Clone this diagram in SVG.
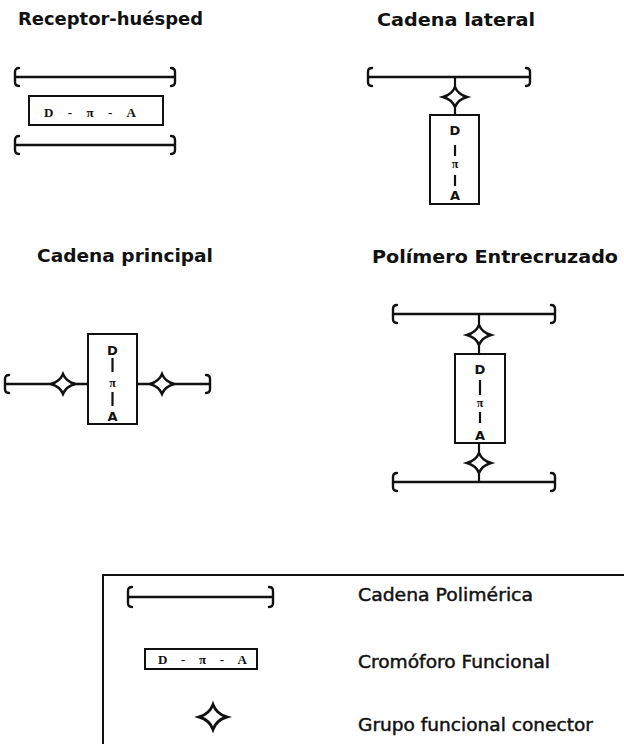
<svg xmlns="http://www.w3.org/2000/svg" width="624" height="744" viewBox="0 0 624 744">
<style>
.title{font-family:"DejaVu Sans","Liberation Sans",sans-serif;font-weight:bold;font-size:17px;fill:#111}
.lab{font-family:"DejaVu Sans","Liberation Sans",sans-serif;font-size:17px;fill:#111;stroke:#111;stroke-width:0.45}
.chain{fill:none;stroke:#111;stroke-width:2.4;stroke-linecap:round}
.box{fill:#fff;stroke:#111;stroke-width:2}
.bond{stroke:#111;stroke-width:2.2}
.stem{stroke:#111;stroke-width:2.2}
.hx{font-family:"Liberation Serif","DejaVu Serif",serif;font-weight:bold;font-size:13px;fill:#111}
.vx{font-family:"DejaVu Sans","Liberation Sans",sans-serif;font-weight:bold;font-size:13px;fill:#111;text-anchor:middle}
.pi{font-family:"Liberation Serif","DejaVu Serif",serif;font-weight:bold;font-size:12px;fill:#111;text-anchor:middle}
.frame{fill:none;stroke:#111;stroke-width:2}
</style>
<defs>
<path id="star" d="M-12,0 Q-3,-2.5 0,-10 Q3,-2.5 12,0 Q3,2.5 0,10 Q-3,2.5 -12,0Z" fill="#fff" stroke="#111" stroke-width="2.4" stroke-linejoin="miter"/>
</defs>
<rect width="624" height="744" fill="#fff"/>

<g id="receptor-huesped">
<text class="title" x="18" y="25" textLength="185" lengthAdjust="spacingAndGlyphs">Receptor-huésped</text>
<path class="chain" d="M19,68 Q15,68 15,72 V82 Q15,86 19,86 M15,77 H175 M171,68 Q175,68 175,72 V82 Q175,86 171,86"/>
<rect class="box" x="29" y="96" width="134" height="29"/>
<text class="hx" x="44" y="117" textLength="92" lengthAdjust="spacing">D - π - A</text>
<path class="chain" d="M19,136 Q15,136 15,140 V150 Q15,154 19,154 M15,145 H175 M171,136 Q175,136 175,140 V150 Q175,154 171,154"/>
</g>

<g id="cadena-lateral">
<text class="title" x="377" y="26" textLength="158" lengthAdjust="spacingAndGlyphs">Cadena lateral</text>
<path class="chain" d="M372,68 Q368,68 368,72 V82 Q368,86 372,86 M368,77 H530 M526,68 Q530,68 530,72 V82 Q530,86 526,86"/>
<rect class="box" x="430" y="115" width="49" height="89"/>
<text class="vx" x="455" y="135">D</text>
<line class="bond" x1="455" y1="145" x2="455" y2="156"/>
<text class="pi" x="455" y="168">π</text>
<line class="bond" x1="455" y1="175" x2="455" y2="186"/>
<text class="vx" x="455" y="200">A</text>
</g>

<g id="cadena-principal">
<text class="title" x="37" y="262" textLength="176" lengthAdjust="spacingAndGlyphs">Cadena principal</text>
<path class="chain" d="M9,375 Q5,375 5,379 V389 Q5,393 9,393 M5,384 H88 M137,384 H210 M206,375 Q210,375 210,379 V389 Q210,393 206,393"/>
<rect class="box" x="88" y="334" width="49" height="90"/>
<text class="vx" x="112.5" y="355">D</text>
<line class="bond" x1="112.5" y1="358" x2="112.5" y2="372"/>
<text class="pi" x="112.5" y="387">π</text>
<line class="bond" x1="112.5" y1="392" x2="112.5" y2="406"/>
<text class="vx" x="112.5" y="421">A</text>
</g>

<g id="polimero-entrecruzado">
<text class="title" x="372" y="263" textLength="246" lengthAdjust="spacingAndGlyphs">Polímero Entrecruzado</text>
<path class="chain" d="M397,305 Q393,305 393,309 V319 Q393,323 397,323 M393,314 H555 M551,305 Q555,305 555,309 V319 Q555,323 551,323"/>
<rect class="box" x="455" y="354" width="50" height="89"/>
<text class="vx" x="480" y="374">D</text>
<line class="bond" x1="480" y1="380" x2="480" y2="395"/>
<text class="pi" x="480" y="407">π</text>
<line class="bond" x1="480" y1="412" x2="480" y2="423"/>
<text class="vx" x="480" y="440">A</text>
<path class="chain" d="M397,473 Q393,473 393,477 V487 Q393,491 397,491 M393,482 H555 M551,473 Q555,473 555,477 V487 Q555,491 551,491"/>
</g>

<g id="connectors">
<line class="stem" x1="455" y1="77" x2="455" y2="115"/>
<use href="#star" x="455" y="97"/>
<use href="#star" x="63" y="384"/>
<use href="#star" x="162" y="384"/>
<line class="stem" x1="479" y1="314" x2="479" y2="354"/>
<use href="#star" x="479" y="335"/>
<line class="stem" x1="479" y1="443" x2="479" y2="482"/>
<use href="#star" x="479" y="463"/>
</g>

<g id="leyenda">
<rect class="frame" x="103" y="575" width="600" height="300"/>
<path class="chain" d="M132,587 Q128,587 128,591 V603 Q128,607 132,607 M128,597 H273 M269,587 Q273,587 273,591 V603 Q273,607 269,607"/>
<text class="lab" x="358" y="601" textLength="175" lengthAdjust="spacingAndGlyphs">Cadena Polimérica</text>
<rect class="box" x="145" y="649" width="112" height="20"/>
<text class="hx" x="158" y="664" textLength="89" lengthAdjust="spacing">D - π - A</text>
<text class="lab" x="358" y="668" textLength="192" lengthAdjust="spacingAndGlyphs">Cromóforo Funcional</text>
<use href="#star" transform="translate(213,717) scale(1.15,1.25)"/>
<text class="lab" x="358" y="731" textLength="235" lengthAdjust="spacingAndGlyphs">Grupo funcional conector</text>
</g>
</svg>
